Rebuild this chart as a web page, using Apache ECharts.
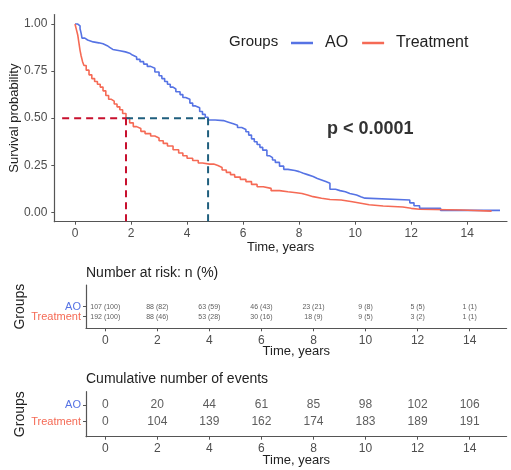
<!DOCTYPE html>
<html>
<head>
<meta charset="utf-8">
<script src="https://cdn.jsdelivr.net/npm/echarts@6/dist/echarts.min.js"></script>
<style>html,body{margin:0;padding:0;background:#fff}#c{width:511px;height:470px}</style>
</head>
<body>
<div id="c"></div>
<script>
// ---- data ----
const groups = ['AO', 'Treatment'];
const aoTime = [0,0.10,0.18,0.22,0.25,0.35,0.45,0.65,0.85,1.0,1.15,1.25,1.35,1.6,1.8,1.95,2.05,2.2,2.32,2.45,2.58,2.7,2.85,3.0,3.1,3.2,3.3,3.4,3.5,3.6,3.75,3.85,3.95,4.1,4.2,4.3,4.45,4.55,4.65,4.75,5.0,5.3,5.45,5.65,5.8,5.95,6.1,6.2,6.3,6.4,6.5,6.6,6.7,6.85,6.95,7.05,7.15,7.3,7.45,7.6,7.85,8.0,8.15,8.3,8.5,8.65,8.8,8.95,9.1,9.3,9.46,9.65,9.81,10.05,10.2,10.35,11.95,12.1,12.3,13.05,15.17];
const aoSurv = [1.0,0.99,0.975,0.95,0.925,0.915,0.905,0.90,0.895,0.885,0.875,0.865,0.858,0.852,0.845,0.835,0.825,0.812,0.80,0.787,0.775,0.765,0.745,0.725,0.71,0.695,0.68,0.665,0.655,0.64,0.625,0.61,0.60,0.58,0.565,0.555,0.535,0.52,0.505,0.49,0.487,0.48,0.47,0.462,0.45,0.44,0.428,0.41,0.39,0.375,0.36,0.345,0.33,0.30,0.29,0.278,0.265,0.245,0.228,0.222,0.216,0.207,0.20,0.19,0.18,0.172,0.163,0.154,0.122,0.115,0.109,0.10,0.092,0.083,0.075,0.065,0.05,0.035,0.021,0.01,0.01];
const trTime = [0,0.05,0.1,0.14,0.18,0.22,0.27,0.32,0.4,0.5,0.6,0.7,0.8,0.9,1.0,1.1,1.2,1.3,1.4,1.5,1.6,1.7,1.82,1.95,2.08,2.2,2.35,2.5,2.7,2.85,3.0,3.15,3.3,3.5,3.7,3.85,4.0,4.2,4.4,4.55,4.8,4.95,5.1,5.25,5.4,5.55,5.7,5.9,6.1,6.3,6.5,6.72,7.0,7.3,7.6,7.9,8.1,8.3,8.5,8.8,9.1,9.5,9.9,10.2,10.5,11.0,11.7,12.0,12.3,13.8,14.87];
const trSurv = [1.0,0.97,0.94,0.9,0.86,0.83,0.80,0.78,0.755,0.73,0.71,0.695,0.68,0.665,0.645,0.62,0.60,0.59,0.575,0.56,0.545,0.525,0.50,0.475,0.455,0.445,0.43,0.418,0.405,0.395,0.38,0.366,0.352,0.332,0.315,0.30,0.287,0.275,0.262,0.256,0.256,0.248,0.238,0.225,0.212,0.2,0.187,0.175,0.163,0.148,0.136,0.127,0.115,0.109,0.104,0.1,0.092,0.083,0.075,0.068,0.065,0.056,0.048,0.04,0.033,0.028,0.021,0.016,0.012,0.006,0.006];
const medianAO = 4.75;
const medianTreatment = 1.82;
const pValueText = 'p < 0.0001';
const tableTimes = [0,2,4,6,8,10,12,14];
const riskAO = [107,88,63,46,23,9,5,1];
const riskAOPct = [100,82,59,43,21,8,5,1];
const riskTr = [192,88,53,30,18,9,3,1];
const riskTrPct = [100,46,28,16,9,5,2,1];
const eventsAO = [0,20,44,61,85,98,102,106];
const eventsTr = [0,104,139,162,174,183,189,191];
const xTicks = [0,2,4,6,8,10,12,14];
const yTicks = [0,0.25,0.5,0.75,1.0];

// ---- styles ----
const BLUE = '#5673E4', RED = '#F56A55', DRED = '#C8102E', TEAL = '#1F5F7E';
const FONT = 'Liberation Sans, Arial, sans-serif';
const AX = '#555', LBL = '#4D4D4D';
const XMIN = -0.739, XMAX = 15.42;

function xAx(gi, nameGap) {
  return {
    type: 'value', gridIndex: gi, min: XMIN, max: XMAX,
    axisLine: {show: true, onZero: false, lineStyle: {color: AX, width: 1.2}},
    axisTick: {show: true, customValues: xTicks, length: 3, lineStyle: {color: AX}},
    axisLabel: {customValues: xTicks, color: LBL, fontSize: 12, fontFamily: FONT, margin: 6},
    splitLine: {show: false},
    name: 'Time, years', nameLocation: 'middle', nameGap: nameGap, nameMoveOverlap: false,
    nameTextStyle: {color: '#222', fontSize: 13, fontFamily: FONT}
  };
}
// one y axis per group row so that the two row labels never hide each other
function tableY(gi, min, max, fs, rowIdx, withLine) {
  const val = rowIdx === 0 ? 1 : 0;
  const col = rowIdx === 0 ? BLUE : RED;
  return {
    type: 'value', gridIndex: gi, min: min, max: max, position: 'left', offset: 0,
    axisLine: {show: withLine, onZero: false, lineStyle: {color: AX, width: 1.2}},
    axisTick: {show: true, customValues: [val], length: 3, lineStyle: {color: AX}},
    axisLabel: {customValues: [val], margin: 5, fontSize: fs, fontFamily: FONT, color: col,
      formatter: () => groups[rowIdx]},
    splitLine: {show: false},
    name: withLine ? 'Groups' : '', nameLocation: 'middle', nameGap: 59, nameRotate: 90, nameMoveOverlap: false,
    nameTextStyle: {color: '#222', fontSize: 14, fontFamily: FONT}
  };
}
function tableSeries(gi, yi, yv, size, textFn) {
  return {
    type: 'scatter', xAxisIndex: gi, yAxisIndex: yi, symbolSize: 0, silent: true,
    data: tableTimes.map((t, i) => [t, yv, textFn(i)]),
    label: {show: true, position: 'inside', formatter: p => p.data[2], color: '#333', fontSize: size, fontFamily: FONT}
  };
}

const option = {
  animation: false,
  textStyle: {fontFamily: FONT},
  title: [
    {text: 'Groups', left: 224, top: 29, textStyle: {fontSize: 15, fontWeight: 'normal', color: '#222', fontFamily: FONT}},
    {text: pValueText, left: 322, top: 115, textStyle: {fontSize: 18, fontWeight: 'bold', color: '#333', fontFamily: FONT}},
    {text: 'Number at risk: n (%)', left: 81, top: 261, textStyle: {fontSize: 14, fontWeight: 'normal', color: '#222', fontFamily: FONT}},
    {text: 'Cumulative number of events', left: 81, top: 367, textStyle: {fontSize: 14, fontWeight: 'normal', color: '#222', fontFamily: FONT}}
  ],
  legend: {
    left: 286, top: 30, itemWidth: 22, itemHeight: 2.5, itemGap: 14, icon: 'rect',
    data: groups,
    textStyle: {fontSize: 16, color: '#222', fontFamily: FONT, padding: [0, 0, 0, 7]}
  },
  grid: [
    {left: 54.3, top: 14.6, width: 452.7, height: 207.1, outerBoundsMode: 'none', containLabel: false},
    {left: 86, top: 285, width: 420.6, height: 43.3, outerBoundsMode: 'none', containLabel: false},
    {left: 86, top: 391.7, width: 420.6, height: 45, outerBoundsMode: 'none', containLabel: false}
  ],
  xAxis: [xAx(0, 19), xAx(1, 17), xAx(2, 17)],
  yAxis: [
    {
      type: 'value', gridIndex: 0, min: -0.05, max: 1.05,
      axisLine: {show: true, onZero: false, lineStyle: {color: AX, width: 1.2}},
      axisTick: {show: true, customValues: yTicks, length: 3, lineStyle: {color: AX}},
      axisLabel: {customValues: yTicks, formatter: v => v.toFixed(2), color: LBL, fontSize: 12, fontFamily: FONT, margin: 7},
      splitLine: {show: false},
      name: 'Survival probability', nameLocation: 'middle', nameGap: 33, nameMoveOverlap: false,
      nameTextStyle: {color: '#222', fontSize: 13, fontFamily: FONT}
    },
    tableY(1, -1.16, 3.17, 11, 0, true),
    tableY(1, -1.16, 3.17, 11, 1, false),
    tableY(2, -0.9, 1.8, 11, 0, true),
    tableY(2, -0.9, 1.8, 11, 1, false)
  ],
  series: [
    {name: groups[0], type: 'line', step: 'end', showSymbol: false, color: BLUE, lineStyle: {width: 1.6, color: BLUE},
      data: aoTime.map((t, i) => [t, aoSurv[i]]), z: 3},
    {name: groups[1], type: 'line', step: 'end', showSymbol: false, color: RED, lineStyle: {width: 1.6, color: RED},
      data: trTime.map((t, i) => [t, trSurv[i]]), z: 3},
    {type: 'line', showSymbol: false, silent: true, lineStyle: {type: [7, 5], width: 2, color: DRED},
      data: [[XMIN + 0.28, 0.5], [medianTreatment, 0.5]], z: 4},
    {type: 'line', showSymbol: false, silent: true, lineStyle: {type: [7, 5], width: 2, color: TEAL},
      data: [[medianTreatment, 0.5], [medianAO, 0.5]], z: 4},
    {type: 'line', showSymbol: false, silent: true, lineStyle: {type: [7, 5], width: 2, color: DRED},
      data: [[medianTreatment, 0.5], [medianTreatment, -0.05]], z: 4},
    {type: 'line', showSymbol: false, silent: true, lineStyle: {type: [7, 5], width: 2, color: TEAL},
      data: [[medianAO, 0.5], [medianAO, -0.05]], z: 4},
    tableSeries(1, 1, 1, 7, i => riskAO[i] + ' (' + riskAOPct[i] + ')'),
    tableSeries(1, 1, 0, 7, i => riskTr[i] + ' (' + riskTrPct[i] + ')'),
    tableSeries(2, 3, 1, 12, i => String(eventsAO[i])),
    tableSeries(2, 3, 0, 12, i => String(eventsTr[i]))
  ]
};
const chart = echarts.init(document.getElementById('c'), null, {renderer: 'canvas'});
chart.setOption(option);
</script>
</body>
</html>
